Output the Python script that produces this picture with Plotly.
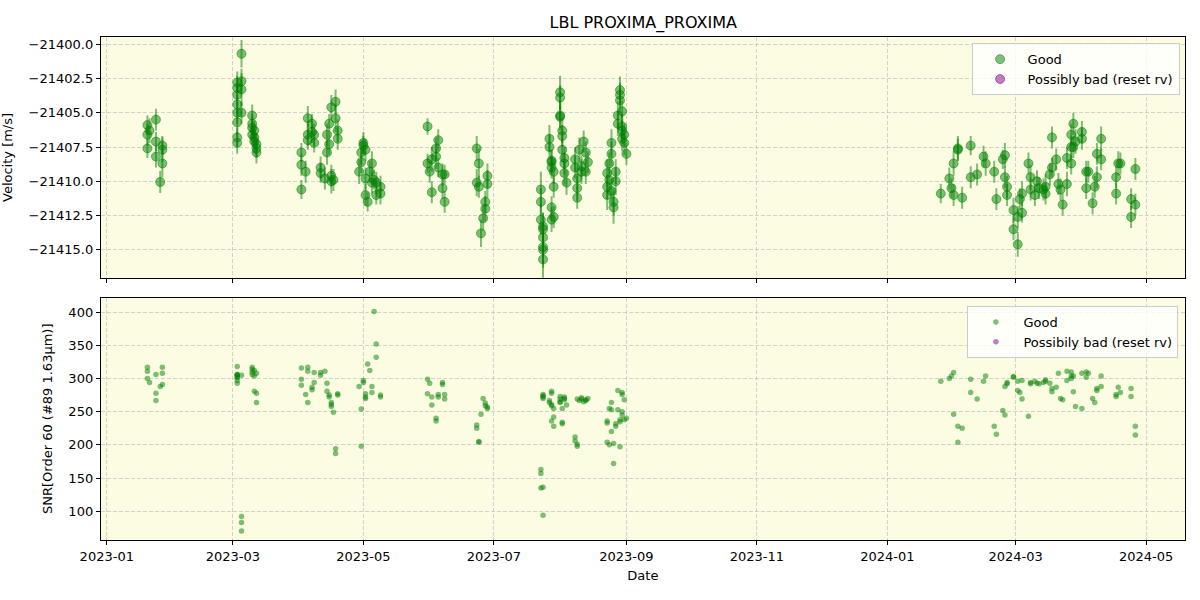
import plotly.graph_objects as go

# --- Data (one line per observing run) ---
dates = [
    # Jan 2023
    "2023-01-20", "2023-01-20", "2023-01-20", "2023-01-21", "2023-01-24", "2023-01-24",
    "2023-01-24", "2023-01-27", "2023-01-27", "2023-01-27", "2023-01-26",
    # Mar 2023
    "2023-03-03", "2023-03-03", "2023-03-03", "2023-03-03", "2023-03-03", "2023-03-03",
    "2023-03-03", "2023-03-03", "2023-03-05", "2023-03-05", "2023-03-05", "2023-03-05",
    "2023-03-10", "2023-03-10", "2023-03-10", "2023-03-10", "2023-03-11", "2023-03-11",
    "2023-03-12", "2023-03-12", "2023-03-11", "2023-03-12",
    # Apr 2023
    "2023-04-02", "2023-04-02", "2023-04-02", "2023-04-04", "2023-04-05", "2023-04-05",
    "2023-04-05", "2023-04-07", "2023-04-07", "2023-04-08", "2023-04-08", "2023-04-11",
    "2023-04-11", "2023-04-13", "2023-04-14", "2023-04-14", "2023-04-15", "2023-04-15",
    "2023-04-16", "2023-04-16", "2023-04-17", "2023-04-18", "2023-04-18", "2023-04-19",
    "2023-04-19", "2023-04-16",
    # May 2023
    "2023-04-29", "2023-04-30", "2023-04-30", "2023-05-01", "2023-05-01", "2023-05-02",
    "2023-05-02", "2023-05-02", "2023-05-03", "2023-05-04", "2023-05-05", "2023-05-05",
    "2023-05-06", "2023-05-07", "2023-05-07", "2023-05-09", "2023-05-09",
    # Jun 2023
    "2023-05-31", "2023-05-31", "2023-06-01", "2023-06-02", "2023-06-02", "2023-06-04",
    "2023-06-04", "2023-06-05", "2023-06-05", "2023-06-07", "2023-06-07", "2023-06-08",
    "2023-06-08",
    # late Jun 2023
    "2023-06-23", "2023-06-23", "2023-06-24", "2023-06-24", "2023-06-25", "2023-06-26",
    "2023-06-27", "2023-06-27", "2023-06-28", "2023-06-28",
    # late Jul / early Aug 2023
    "2023-07-23", "2023-07-23", "2023-07-23", "2023-07-24", "2023-07-24", "2023-07-24",
    "2023-07-24", "2023-07-24", "2023-07-24",
    "2023-07-27", "2023-07-27", "2023-07-28", "2023-07-28", "2023-07-28", "2023-07-29",
    "2023-07-29", "2023-07-28", "2023-07-29", "2023-07-28",
    "2023-08-01", "2023-08-01", "2023-08-01", "2023-08-01", "2023-08-02", "2023-08-02",
    "2023-08-02", "2023-08-03", "2023-08-03", "2023-08-03", "2023-08-04",
    # mid Aug 2023
    "2023-08-08", "2023-08-08", "2023-08-09", "2023-08-09", "2023-08-09", "2023-08-10",
    "2023-08-11", "2023-08-11", "2023-08-12", "2023-08-13", "2023-08-13", "2023-08-14",
    # late Aug 2023
    "2023-08-23", "2023-08-23", "2023-08-23", "2023-08-24", "2023-08-24", "2023-08-25",
    "2023-08-25", "2023-08-26", "2023-08-26", "2023-08-27", "2023-08-27", "2023-08-25",
    "2023-08-29", "2023-08-29", "2023-08-29", "2023-08-28", "2023-08-28", "2023-08-30",
    "2023-08-30", "2023-08-31", "2023-08-31", "2023-09-01", "2023-08-30", "2023-08-30",
    # 2024
    "2024-01-26", "2024-01-30", "2024-01-31", "2024-02-01", "2024-02-01", "2024-02-03",
    "2024-02-03", "2024-02-05", "2024-02-09", "2024-02-09", "2024-02-12", "2024-02-15",
    "2024-02-16", "2024-02-20", "2024-02-21", "2024-02-24", "2024-02-25", "2024-02-25",
    "2024-02-26", "2024-02-26", "2024-02-29", "2024-02-29", "2024-03-02", "2024-03-02",
    "2024-03-03", "2024-03-04", "2024-03-04", "2024-03-07", "2024-03-08", "2024-03-08",
    "2024-03-10", "2024-03-11", "2024-03-12", "2024-03-14", "2024-03-15", "2024-03-15",
    "2024-03-17", "2024-03-18", "2024-03-18", "2024-03-20", "2024-03-21", "2024-03-22",
    "2024-03-23", "2024-03-25", "2024-03-25", "2024-03-27", "2024-03-27", "2024-03-27",
    "2024-03-28", "2024-03-28", "2024-03-29", "2024-04-01", "2024-04-01", "2024-04-03",
    "2024-04-03", "2024-04-04", "2024-04-06", "2024-04-07", "2024-04-08", "2024-04-08",
    "2024-04-10", "2024-04-10", "2024-04-17", "2024-04-17", "2024-04-18", "2024-04-19",
    "2024-04-24", "2024-04-24", "2024-04-26", "2024-04-26",
]

rv = [
    -21405.9, -21406.6, -21407.6, -21406.3, -21405.5, -21407.1,
    -21408.2, -21407.4, -21407.7, -21408.7, -21410.05,
    -21402.8, -21403.2, -21403.7, -21404.4, -21405.0, -21405.7,
    -21406.8, -21407.2, -21400.7, -21402.7, -21403.3, -21405.0,
    -21405.2, -21405.8, -21406.1, -21406.6, -21406.8, -21407.1,
    -21407.6, -21407.9, -21406.3, -21407.3,
    -21410.6, -21408.8, -21407.9, -21409.3, -21405.4, -21406.6,
    -21407.0, -21406.4, -21405.8, -21406.6, -21407.2, -21409.0,
    -21409.4, -21409.8, -21407.9, -21406.6, -21405.8, -21407.3,
    -21404.6, -21409.6, -21409.9, -21404.2, -21405.4, -21406.3,
    -21406.9, -21410.0,
    -21409.3, -21408.6, -21407.9, -21407.2, -21407.4, -21407.7,
    -21409.8, -21411.0, -21411.5, -21409.3, -21408.7, -21410.1,
    -21409.9, -21411.0, -21410.1, -21410.4, -21410.9,
    -21406.0, -21408.7, -21409.3, -21410.8, -21408.4, -21407.6,
    -21408.2, -21407.0, -21409.0, -21409.5, -21410.5, -21411.5,
    -21409.5,
    -21407.6, -21410.1, -21408.7, -21410.4, -21413.8, -21412.7,
    -21411.5, -21412.0, -21409.6, -21410.2,
    -21410.6, -21411.5, -21412.8, -21413.3, -21413.5, -21414.1,
    -21414.8, -21415.0, -21415.7,
    -21406.9, -21407.5, -21408.6, -21409.0, -21408.5, -21409.3,
    -21410.4, -21411.9, -21412.6, -21412.8,
    -21403.5, -21403.9, -21405.2, -21405.3, -21406.3, -21406.7,
    -21407.7, -21408.3, -21408.7, -21409.4, -21410.1,
    -21408.4, -21409.0, -21409.8, -21410.5, -21411.2, -21407.7,
    -21408.9, -21409.3, -21407.1, -21407.9, -21409.3, -21408.6,
    -21409.4, -21410.4, -21411.0, -21409.9, -21408.7, -21408.0,
    -21407.2, -21411.9, -21411.5, -21409.3, -21410.0, -21410.7,
    -21403.35, -21403.7, -21404.1, -21405.2, -21405.8, -21404.9,
    -21406.0, -21406.6, -21407.2, -21408.0, -21406.9, -21406.3,
    -21410.9, -21409.8, -21410.5, -21408.7, -21411.0, -21407.6,
    -21407.7, -21411.2, -21407.4, -21409.7, -21409.5, -21408.2,
    -21408.7, -21409.3, -21411.3, -21408.4, -21408.1, -21409.7,
    -21410.4, -21411.0, -21412.1, -21413.5, -21414.6, -21412.6,
    -21411.3, -21410.9, -21412.3, -21408.7, -21409.7, -21410.6,
    -21411.0, -21410.0, -21410.5, -21410.6, -21410.9, -21410.4,
    -21409.5, -21409.0, -21406.8, -21408.4, -21410.2, -21410.6,
    -21411.7, -21408.3, -21410.2, -21407.5, -21406.6, -21408.7,
    -21405.8, -21407.5, -21407.1, -21406.4, -21406.9, -21409.3,
    -21410.5, -21409.3, -21411.6, -21410.4, -21409.7, -21408.0,
    -21406.9, -21408.4, -21409.7, -21410.9, -21408.7, -21408.7,
    -21411.3, -21412.6, -21409.1, -21411.7,
]

rv_err = [
    0.7, 0.8, 0.7, 0.9, 0.8, 0.7, 0.8, 0.7, 0.9, 1.0, 0.8,
    0.8, 0.9, 0.8, 0.7, 0.8, 0.9, 0.7, 0.8, 1.0, 0.9, 1.2, 0.8,
    0.8, 0.7, 0.8, 0.7, 0.8, 0.9, 0.7, 0.8, 0.7, 0.8,
    0.7, 0.8, 0.7, 0.8, 0.9, 0.8, 0.7, 0.8, 0.7, 0.8, 0.7, 0.8,
    0.7, 0.8, 0.9, 0.8, 0.7, 0.8, 0.9, 0.8, 0.8, 0.9, 1.0, 0.8,
    0.8, 0.9,
    0.9, 0.8, 0.9, 0.8, 0.7, 0.8, 0.8, 0.8, 0.7, 0.8, 0.9, 0.8,
    0.7, 0.7, 0.8, 0.8, 0.8,
    0.6, 0.7, 0.8, 0.8, 0.9, 0.8, 0.9, 0.8, 0.7, 0.8, 0.8, 0.8,
    0.7,
    0.9, 1.0, 1.1, 0.8, 1.0, 0.9, 0.8, 0.9, 0.9, 1.0,
    1.3, 1.0, 1.1, 1.0, 1.2, 1.1, 1.2, 1.3, 1.4,
    1.0, 0.9, 0.9, 0.8, 0.8, 0.9, 0.8, 0.8, 0.8, 0.9,
    1.2, 0.9, 1.1, 0.8, 0.9, 0.8, 0.9, 0.8, 0.8, 0.9, 0.9,
    0.9, 0.8, 0.8, 0.9, 0.8, 0.9, 0.8, 0.9, 0.8, 0.8, 0.9, 0.8,
    1.0, 0.9, 1.1, 0.9, 0.8, 0.9, 1.0, 1.2, 1.0, 0.9, 1.0, 0.9,
    1.0, 0.9, 0.9, 1.0, 0.9, 0.8, 0.9, 0.8, 0.9, 0.8, 0.9, 0.8,
    0.7, 0.8, 0.7, 0.9, 0.8, 0.9, 0.8, 0.8, 0.7, 0.8, 0.8, 0.8,
    0.9, 0.8, 0.8, 0.7, 0.9, 0.8, 0.8, 0.8, 0.9, 0.8, 0.9, 0.8,
    0.8, 0.9, 0.7, 0.8, 0.9, 0.8, 0.8, 0.8, 0.8, 0.8, 0.8, 0.9,
    0.8, 0.7, 0.8, 0.8, 0.8, 0.8, 0.8, 0.8, 0.9, 0.8, 0.8, 0.8,
    0.8, 0.8, 0.9, 0.8, 0.8, 0.8, 0.8, 0.8, 0.8, 0.8, 0.8, 0.8,
    0.9, 0.8, 0.8, 0.8, 0.9, 0.8, 0.8, 0.8, 0.8, 0.8,
]

snr = [
    317, 311, 300, 294, 306, 278, 267, 317, 308, 291, 288,
    318, 306, 305, 302, 293, 297, 306, 302, 92, 83, 70, 305,
    317, 314, 310, 306, 304, 281, 278, 264, 312, 308,
    316, 290, 299, 276, 264, 317, 311, 287, 283, 309, 294, 305,
    309, 311, 293, 281, 275, 272, 264, 258, 249, 194, 187, 277,
    275, 261,
    288, 254, 198, 297, 294, 277, 272, 270, 322, 312, 288, 279,
    401, 352, 332, 275, 272,
    277, 299, 293, 272, 260, 240, 236, 276, 272, 294, 291, 276,
    269,
    230, 225, 204, 205, 246, 270, 263, 259, 257, 255,
    163, 157, 135, 136, 94, 276, 272, 274, 270,
    267, 264, 281, 278, 261, 255, 242, 236, 228, 259,
    264, 273, 269, 265, 255, 234, 232, 270, 272, 268, 260,
    212, 206, 201, 198, 269, 267, 269, 271, 265, 267, 268, 270,
    236, 233, 204, 200, 255, 264, 253, 172, 202, 232, 228, 220,
    197, 235, 238, 253, 282, 279, 276, 268, 238, 240, 250, 245,
    296, 300, 304, 309, 246, 204, 228, 225, 299, 279, 269, 296,
    304, 228, 216, 252, 245, 288, 292, 294, 303, 302, 296, 282,
    279, 297, 269, 243, 294, 292, 296, 293, 292, 294, 296, 298,
    293, 280, 285, 287, 308, 270, 268, 297, 311, 304, 300, 310,
    304, 280, 258, 255, 308, 310, 302, 308, 270, 264, 285, 282,
    304, 288, 273, 276, 287, 279, 285, 273, 228, 215,
]

GREEN = "rgba(0,128,0,0.5)"
PURPLE = "rgba(128,0,128,0.5)"
BG = "#fcfce3"
GRID = "rgba(176,176,190,0.55)"
FONT = "DejaVu Sans, Arial, sans-serif"

fig = go.Figure()

# top panel: radial velocity with error bars
fig.add_trace(go.Scatter(
    x=dates, y=rv, mode="markers", name="Good",
    error_y=dict(type="data", array=rv_err, color=GREEN, thickness=2, width=0),
    marker=dict(color=GREEN, size=9, line=dict(color=GREEN, width=1)),
    xaxis="x", yaxis="y", legend="legend",
))
fig.add_trace(go.Scatter(
    x=[None], y=[None], mode="markers", name="Possibly bad (reset rv)",
    marker=dict(color=PURPLE, size=9, line=dict(color=PURPLE, width=1)),
    xaxis="x", yaxis="y", legend="legend",
))

# bottom panel: SNR
fig.add_trace(go.Scatter(
    x=dates, y=snr, mode="markers", name="Good",
    marker=dict(color=GREEN, size=5.5),
    xaxis="x2", yaxis="y2", legend="legend2",
))
fig.add_trace(go.Scatter(
    x=[None], y=[None], mode="markers", name="Possibily bad (reset rv)",
    marker=dict(color=PURPLE, size=5.5),
    xaxis="x2", yaxis="y2", legend="legend2",
))

xrange = ["2022-12-29 05:00", "2024-05-19 05:00"]
common_x = dict(
    range=xrange, type="date", dtick="M2", tick0="2023-01-01", tickformat="%Y-%m",
    showgrid=True, gridcolor=GRID, griddash="4px,2px", gridwidth=1,
    showline=True, linecolor="black", linewidth=1, mirror=True,
    ticks="outside", ticklen=4, tickcolor="black", zeroline=False,
    domain=[0.084, 0.9875], automargin=False,
)
common_y = dict(
    showgrid=True, gridcolor=GRID, griddash="4px,2px", gridwidth=1,
    showline=True, linecolor="black", linewidth=1, mirror=True,
    ticks="outside", ticklen=4, tickcolor="black", zeroline=False,
    automargin=False,
)

legend_style = dict(
    bgcolor="rgba(255,255,255,0.8)", bordercolor="#cccccc", borderwidth=1,
    font=dict(size=13, family=FONT, color="black"),
    xanchor="right", yanchor="top", tracegroupgap=0, itemwidth=45,
)

fig.update_layout(
    width=1200, height=600,
    margin=dict(l=0, r=0, t=0, b=0, autoexpand=False),
    paper_bgcolor="white", plot_bgcolor=BG,
    font=dict(family=FONT, size=13, color="black"),
    title=dict(text="LBL PROXIMA_PROXIMA", x=0.536, xanchor="center",
               y=1 - 22 / 600, yanchor="middle", yref="container",
               font=dict(size=16, family=FONT, color="black")),
    xaxis=dict(common_x, anchor="y", showticklabels=False, matches="x2"),
    yaxis=dict(common_y, domain=[0.537, 0.938], range=[-21417.04, -21399.49],
               dtick=2.5, tick0=-21400, tickformat=".1f"),
    xaxis2=dict(common_x, anchor="y2",
                title=dict(text="Date", font=dict(size=13, family=FONT), standoff=8)),
    yaxis2=dict(common_y, domain=[0.100, 0.503], range=[56.6, 421.1],
                dtick=50, tick0=100, anchor="x2"),
    legend=dict(legend_style, x=0.983, y=0.928),
    legend2=dict(legend_style, x=0.982, y=0.49),
    showlegend=True,
    annotations=[
        dict(text="Velocity [m/s]", x=8 / 1200, y=1 - 158 / 600, xref="paper", yref="paper",
             textangle=-90, showarrow=False, xanchor="center", yanchor="middle",
             font=dict(size=13, family=FONT)),
        dict(text="SNR[Order 60 (#89 1.63μm)]", x=47 / 1200, y=1 - 419 / 600,
             xref="paper", yref="paper", textangle=-90, showarrow=False,
             xanchor="center", yanchor="middle", font=dict(size=13, family=FONT)),
    ],
)

fig.write_html("out.html", config={"displayModeBar": False},
               post_script="document.body.style.margin='0';")
